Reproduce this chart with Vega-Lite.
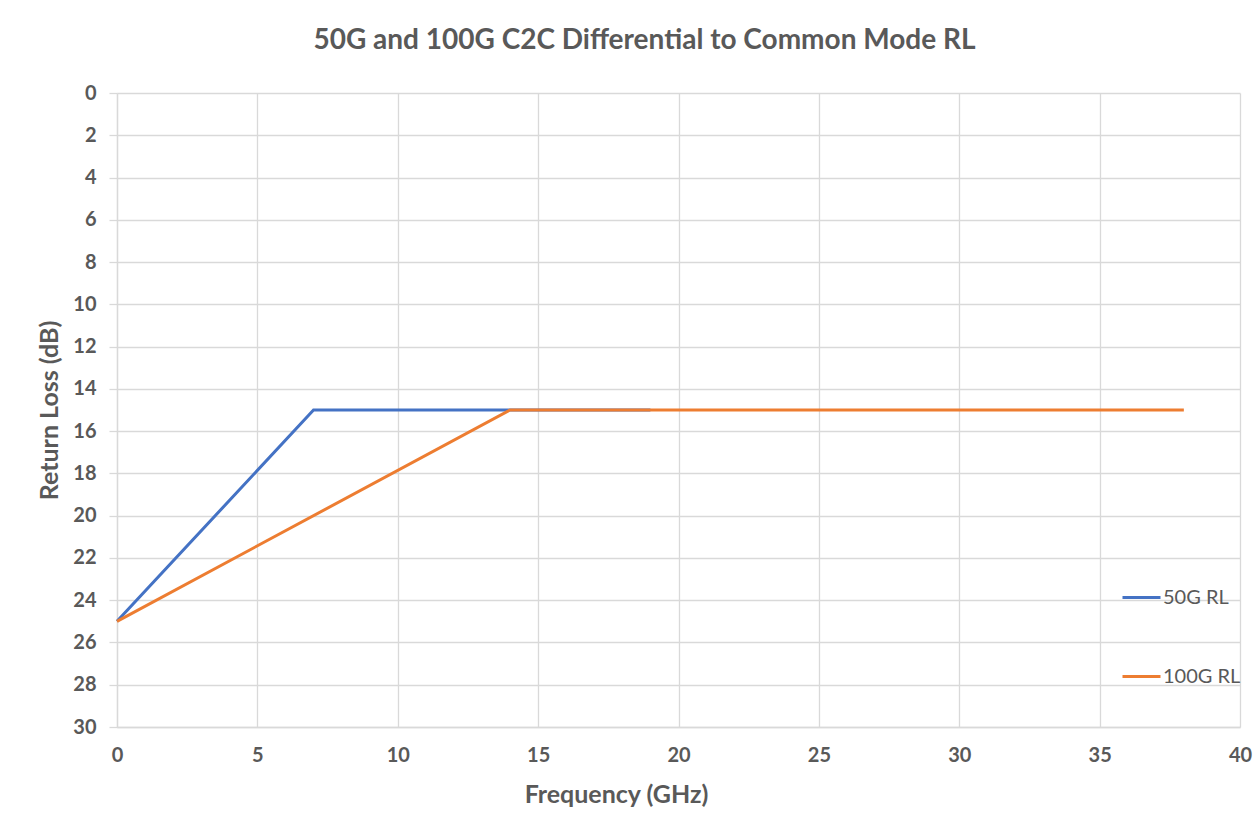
{
  "$schema": "https://vega.github.io/schema/vega-lite/v6.json",
  "width": 1123,
  "height": 634,
  "autosize": {"type": "none"},
  "padding": {"left": 117, "top": 93, "right": 13, "bottom": 106},
  "background": "white",
  "title": {
    "text": "50G and 100G C2C Differential to Common Mode RL",
    "fontSize": 28,
    "fontWeight": "bold",
    "color": "#595959",
    "font": "Lato",
    "anchor": "middle",
    "dx": -34,
    "offset": 28
  },
  "config": {
    "view": {"stroke": null},
    "font": "Lato"
  },
  "data": {
    "values": [
      {"freq": 0, "rl": 25, "series": "50G RL"},
      {"freq": 7, "rl": 15, "series": "50G RL"},
      {"freq": 19, "rl": 15, "series": "50G RL"},
      {"freq": 0, "rl": 25, "series": "100G RL"},
      {"freq": 14, "rl": 15, "series": "100G RL"},
      {"freq": 38, "rl": 15, "series": "100G RL"}
    ]
  },
  "mark": {"type": "line", "strokeWidth": 3, "strokeCap": "butt"},
  "encoding": {
    "x": {
      "field": "freq",
      "type": "quantitative",
      "scale": {"domain": [0, 40], "nice": false, "zero": false},
      "axis": {
        "title": "Frequency (GHz)",
        "values": [0, 5, 10, 15, 20, 25, 30, 35, 40],
        "grid": true,
        "gridColor": "#D9D9D9",
        "gridWidth": 1.3,
        "domainColor": "#D9D9D9",
        "domainWidth": 1.3,
        "ticks": false,
        "labelFlush": false,
        "labelPadding": 18,
        "labelFontSize": 20,
        "labelFontWeight": "bold",
        "labelColor": "#595959",
        "titleFontSize": 25,
        "titleFontWeight": "bold",
        "titleColor": "#595959",
        "titlePadding": 17,
        "titleX": 499,
        "titleAlign": "center"
      }
    },
    "y": {
      "field": "rl",
      "type": "quantitative",
      "scale": {"domain": [0, 30], "reverse": true, "nice": false},
      "axis": {
        "title": "Return Loss (dB)",
        "values": [0, 2, 4, 6, 8, 10, 12, 14, 16, 18, 20, 22, 24, 26, 28, 30],
        "grid": true,
        "gridColor": "#D9D9D9",
        "gridWidth": 1.3,
        "domainColor": "#D9D9D9",
        "domainWidth": 1.3,
        "tickColor": "#D9D9D9",
        "tickWidth": 1.3,
        "tickSize": 8,
        "labelFlush": false,
        "labelPadding": 13,
        "labelFontSize": 20,
        "labelFontWeight": "bold",
        "labelColor": "#595959",
        "titleFontSize": 25,
        "titleFontWeight": "bold",
        "titleColor": "#595959",
        "titlePadding": 10
      }
    },
    "color": {
      "field": "series",
      "type": "nominal",
      "scale": {"domain": ["50G RL", "100G RL"], "range": ["#4472C4", "#ED7D31"]},
      "legend": {
        "title": null,
        "orient": "none",
        "legendX": 1004,
        "legendY": 484,
        "symbolType": "stroke",
        "symbolSize": 1444,
        "symbolStrokeWidth": 3,
        "labelFontSize": 20,
        "labelColor": "#595959",
        "labelOffset": 1,
        "rowPadding": 48,
        "labelLimit": 200
      }
    },
    "order": {"field": "series", "sort": "descending"}
  }
}
